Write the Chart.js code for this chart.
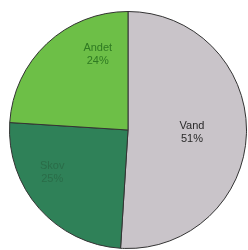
<!DOCTYPE html>
<html><head><meta charset="utf-8">
<script src="https://cdn.jsdelivr.net/npm/chart.js@4"></script>
<style>html,body{margin:0;padding:0;background:#fff;}#wrap{width:248px;height:250px;}</style>
</head><body><div id="wrap"><canvas id="c" width="248" height="250"></canvas></div>
<script>
const categories = ["Vand", "Skov", "Andet"];
const values = [51, 25, 24];
const sliceColors = ["#c9c4c9", "#2f8158", "#6dbf47"];
const labelColors = ["#2a2a2a", "#2a6c48", "#2f7a22"];

const labelPlugin = {
  id: 'sliceLabels',
  afterDatasetsDraw(chart, args, opts) {
    const ctx = chart.ctx;
    const meta = chart.getDatasetMeta(0);
    meta.data.forEach((arc, i) => {
      const p = arc.getProps(['x','y','startAngle','endAngle','outerRadius'], true);
      const mid = (p.startAngle + p.endAngle) / 2 + opts.angleShift[i];
      const r = p.outerRadius * opts.radiusFrac[i];
      const x = p.x + Math.cos(mid) * r;
      const y = p.y + Math.sin(mid) * r;
      ctx.save();
      ctx.fillStyle = labelColors[i];
      ctx.font = '11px "Liberation Sans", Arial, sans-serif';
      ctx.textAlign = 'center';
      ctx.textBaseline = 'middle';
      ctx.fillText(categories[i], x, y - 6);
      ctx.fillText(values[i] + '%', x, y + 7);
      ctx.restore();
    });
  }
};

new Chart(document.getElementById('c'), {
  type: 'pie',
  data: {
    labels: categories,
    datasets: [{
      data: values,
      backgroundColor: sliceColors,
      borderColor: '#333',
      borderWidth: 1
    }]
  },
  options: {
    responsive: false,
    animation: false,
    layout: { padding: { left: 9, right: 1, top: 11, bottom: 1 } },
    plugins: {
      legend: { display: false },
      tooltip: { enabled: false },
      sliceLabels: { radiusFrac: [0.54, 0.73, 0.69], angleShift: [0, 0.22, 0.375] }
    }
  },
  plugins: [labelPlugin]
});
</script></body></html>
